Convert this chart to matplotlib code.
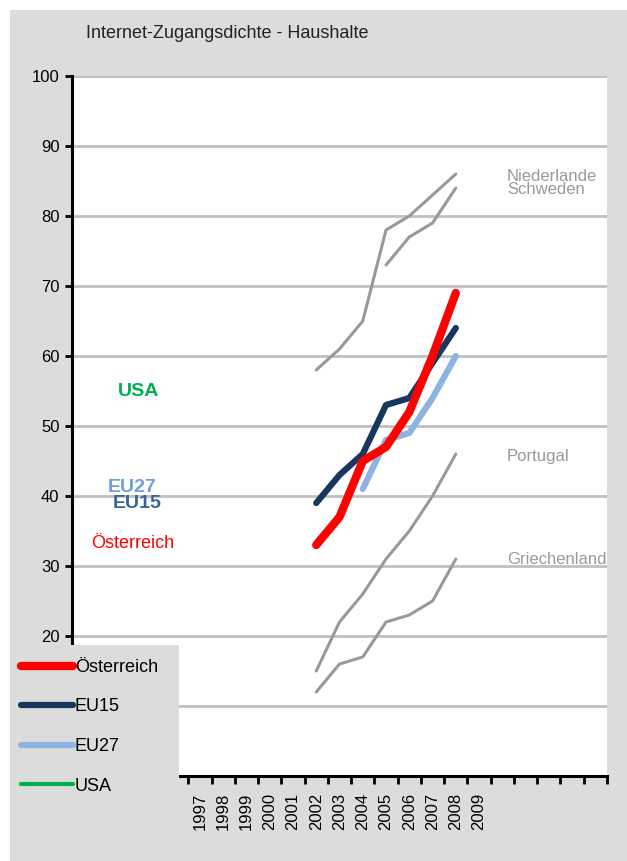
import numpy as np
import matplotlib
matplotlib.use('Agg')
import matplotlib.pyplot as plt
from matplotlib.patches import Rectangle

plt.rcParams['font.family'] = ['Liberation Sans Narrow', 'Liberation Sans', 'DejaVu Sans']

# data (percent of households with internet access)
years = [2002, 2003, 2004, 2005, 2006, 2007, 2008]
austria = [33, 37, 45, 47, 52, 60, 69]
eu15 = [39, 43, 46, 53, 54, 59, 64]
eu27_years = [2004, 2005, 2006, 2007, 2008]
eu27 = [41, 48, 49, 54, 60]
netherlands = [58, 61, 65, 78, 80, 83, 86]
sweden_years = [2005, 2006, 2007, 2008]
sweden = [73, 77, 79, 84]
portugal = [15, 22, 26, 31, 35, 40, 46]
greece = [12, 16, 17, 22, 23, 25, 31]
year_labels = list(range(1997, 2010))

RED = '#ff0000'
NAVY = '#17375e'
LIGHTBLUE = '#8db3e2'
GREEN = '#00b050'
GREY = '#999999'
BG = '#dcdcdc'

W, H = 627, 861
fig = plt.figure(figsize=(W / 100, H / 100), dpi=100)
fig.patch.set_facecolor('white')
fig.add_artist(Rectangle((10 / W, 0), 1, 1 - 10 / H, transform=fig.transFigure,
                         facecolor=BG, edgecolor='none', zorder=0))

ax = fig.add_axes([72 / W, 1 - 776 / H, (607 - 72) / W, (776 - 76) / H])
ax.set_facecolor('white')
ax.set_zorder(1)

# grey comparison countries
for yrs, vals in [(years, netherlands), (sweden_years, sweden), (years, portugal), (years, greece)]:
    ax.plot(yrs, vals, color=GREY, lw=2.2, solid_capstyle='round', zorder=3)

ax.plot(eu27_years, eu27, color=LIGHTBLUE, lw=4.5, solid_capstyle='round', zorder=4, label='EU27')
ax.plot(years, eu15, color=NAVY, lw=4.5, solid_capstyle='round', zorder=5, label='EU15')
ax.plot(years, austria, color=RED, lw=6, solid_capstyle='round', zorder=6, label='Österreich')
usa_line, = ax.plot([], [], color=GREEN, lw=3, solid_capstyle='round', label='USA')

ax.set_xlim(1991.5, 2014.5)
ax.set_ylim(0, 100)

ax.set_yticks(np.arange(0, 101, 10))
ax.yaxis.grid(True, color='#c0c0c0', lw=2)
ax.set_axisbelow(True)
ax.tick_params(axis='y', direction='out', length=5, width=2, labelsize=12, pad=4)

ax.set_xticks(np.arange(1991.5, 2015, 1))
ax.set_xticklabels([])
ax.set_xticks(year_labels, minor=True)
ax.set_xticklabels([str(y) for y in year_labels], minor=True, rotation=90, fontsize=12)
ax.tick_params(axis='x', which='major', direction='out', length=6, width=2)
ax.tick_params(axis='x', which='minor', length=0, pad=12)

for s in ['top', 'right']:
    ax.spines[s].set_visible(False)
for s in ['left', 'bottom']:
    ax.spines[s].set_linewidth(2.2)
    ax.spines[s].set_color('black')

# labels on the left
ax.text(1994.35, 55, 'USA', color=GREEN, fontsize=14, fontweight='bold', ha='center', va='center')
ax.text(1994.1, 41.2, 'EU27', color='#6f9fdc', fontsize=14, fontweight='bold', ha='center', va='center')
ax.text(1994.3, 38.9, 'EU15', color='#3a6495', fontsize=14, fontweight='bold', ha='center', va='center')
ax.text(1994.1, 33.2, 'Österreich', color=RED, fontsize=13, ha='center', va='center')

# labels on the right
for txt, yv in [('Niederlande', 85.7), ('Schweden', 83.8), ('Portugal', 45.7), ('Griechenland', 30.9)]:
    ax.text(2010.2, yv, txt, color=GREY, fontsize=12, ha='left', va='center')

fig.text(86 / W, 1 - 33 / H, 'Internet-Zugangsdichte - Haushalte', fontsize=13,
         ha='left', va='center', color='#222222')

# legend box covering the lower left of the plot
fig.add_artist(Rectangle((10 / W, 1 - 805 / H), (179 - 10) / W, (805 - 645) / H,
                         transform=fig.transFigure, facecolor=BG, edgecolor='none', zorder=5))

handles, labels = ax.get_legend_handles_labels()
order = ['Österreich', 'EU15', 'EU27', 'USA']
hmap = dict(zip(labels, handles))
leg = fig.legend([hmap[k] for k in order], order, loc='upper left',
                 bbox_to_anchor=(10 / W, 1 - 648 / H), frameon=False, fontsize=13,
                 handlelength=2.9, handletextpad=0.1, labelspacing=1.25,
                 borderpad=0.6, borderaxespad=0)
leg.set_zorder(10)

fig.savefig('out.png', dpi=100, facecolor=fig.get_facecolor())
